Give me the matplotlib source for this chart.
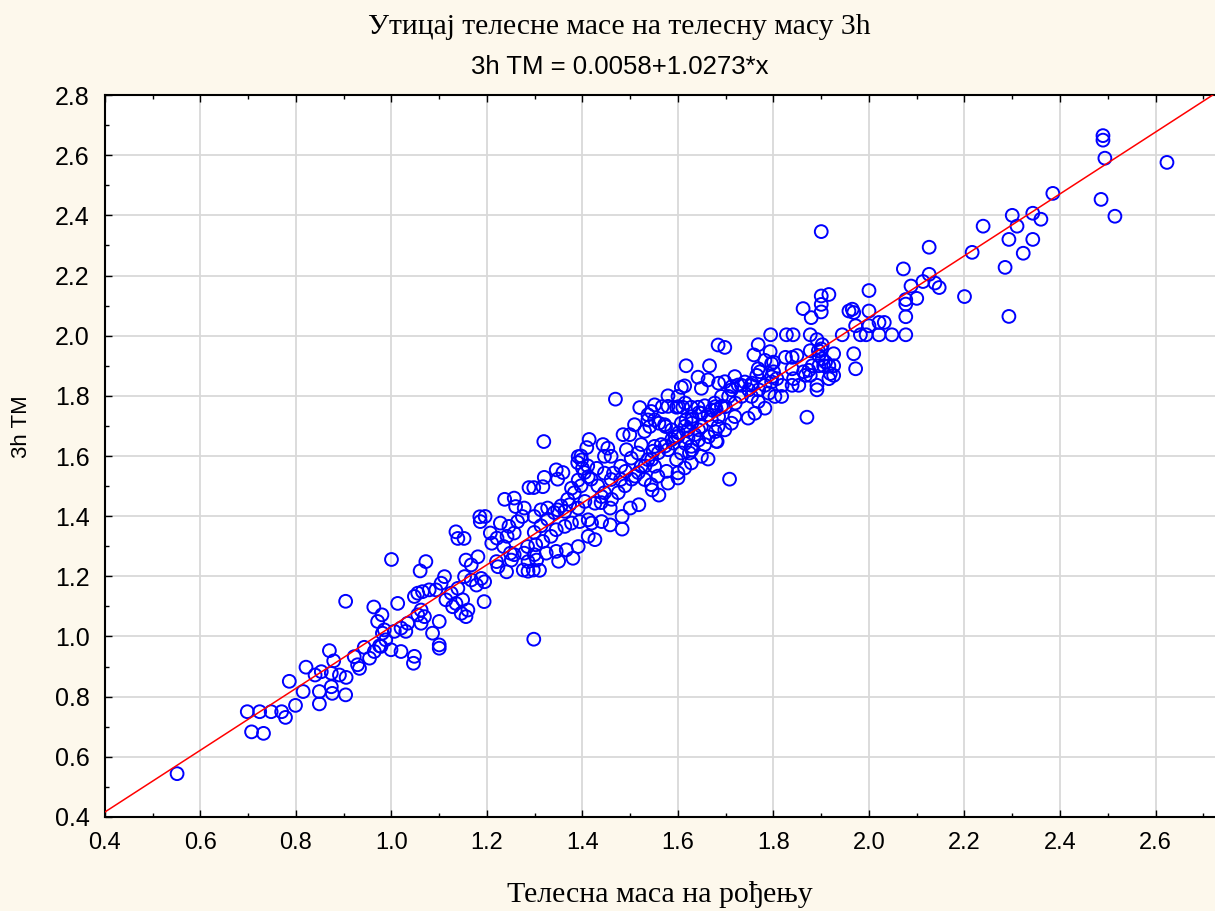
import numpy as np
import matplotlib
matplotlib.use("Agg")
import matplotlib.pyplot as plt
from matplotlib.ticker import MultipleLocator

# regression from the chart subtitle
b0 = 0.0058
b1 = 1.0273

# body mass at birth (x) and at 3h (y), grouped by area
x_low = [0.551, 0.698, 0.724, 0.748, 0.770, 0.707, 0.732, 0.778, 0.799, 0.786, 0.815, 0.821,
         0.849, 0.849, 0.840, 0.853, 0.870, 0.879, 0.874, 0.874, 0.876, 0.891, 0.905, 0.904,
         0.904, 0.922, 0.929, 0.933, 0.943, 0.954, 0.964, 0.975, 0.963, 0.971, 0.980, 0.985,
         1.046]
y_low = [0.544, 0.750, 0.750, 0.750, 0.750, 0.683, 0.678, 0.731, 0.771, 0.851, 0.817, 0.898,
         0.776, 0.817, 0.872, 0.883, 0.953, 0.919, 0.878, 0.833, 0.811, 0.872, 0.864, 0.806,
         1.117, 0.933, 0.906, 0.894, 0.964, 0.928, 0.950, 0.969, 1.098, 1.050, 1.072, 1.022,
         0.911]

x_mid1 = [1.000, 1.072, 1.060, 1.135, 1.139, 1.152, 1.185, 1.156, 1.167, 1.181, 1.220, 1.241,
          1.223, 1.251, 1.276, 1.297, 1.286, 1.304, 1.153, 1.167, 1.188, 1.178, 1.195, 1.111,
          1.104, 1.093, 1.079, 1.065, 1.055, 1.048, 1.013, 1.139, 1.125, 1.114, 1.135, 1.149,
          1.160, 1.146, 1.128, 1.194, 1.156, 1.062, 1.055, 1.069, 1.062, 1.100, 1.086, 1.034,
          1.020, 1.006, 1.030, 0.981, 0.988, 1.100, 1.100, 1.020, 0.999, 0.978, 1.048, 1.298,
          1.286, 1.310, 1.350, 1.380]
y_mid1 = [1.256, 1.249, 1.218, 1.348, 1.326, 1.326, 1.398, 1.254, 1.238, 1.265, 1.249, 1.215,
          1.232, 1.254, 1.221, 1.221, 1.249, 1.254, 1.199, 1.188, 1.193, 1.171, 1.182, 1.199,
          1.177, 1.155, 1.155, 1.149, 1.144, 1.133, 1.110, 1.160, 1.144, 1.122, 1.110, 1.122,
          1.088, 1.077, 1.099, 1.116, 1.066, 1.088, 1.072, 1.066, 1.044, 1.050, 1.011, 1.044,
          1.028, 1.017, 1.017, 1.011, 0.989, 0.972, 0.961, 0.950, 0.956, 0.967, 0.934, 0.991,
          1.217, 1.220, 1.250, 1.260]

x_mid2 = [1.319, 1.414, 1.409, 1.391, 1.398, 1.400, 1.345, 1.359, 1.348, 1.320, 1.317, 1.288,
          1.298, 1.377, 1.391, 1.412, 1.430, 1.440, 1.426, 1.518, 1.500, 1.483, 1.483, 1.458,
          1.458, 1.440, 1.419, 1.405, 1.391, 1.373, 1.363, 1.348, 1.327, 1.313, 1.299, 1.237,
          1.257, 1.260, 1.278, 1.274, 1.264, 1.228, 1.246, 1.196, 1.186, 1.207, 1.221, 1.242,
          1.257, 1.210, 1.235, 1.249, 1.285, 1.302, 1.317, 1.334, 1.345, 1.363, 1.377, 1.394,
          1.412, 1.324, 1.345, 1.366, 1.391, 1.412, 1.426, 1.257, 1.278, 1.299, 1.546, 1.560]
y_mid2 = [1.648, 1.655, 1.628, 1.598, 1.587, 1.559, 1.554, 1.545, 1.523, 1.529, 1.498, 1.495,
          1.495, 1.493, 1.520, 1.531, 1.559, 1.465, 1.443, 1.438, 1.427, 1.399, 1.357, 1.427,
          1.371, 1.382, 1.377, 1.449, 1.427, 1.438, 1.416, 1.421, 1.427, 1.421, 1.399, 1.456,
          1.460, 1.432, 1.427, 1.399, 1.382, 1.377, 1.366, 1.399, 1.382, 1.344, 1.327, 1.333,
          1.344, 1.310, 1.299, 1.277, 1.299, 1.305, 1.316, 1.333, 1.355, 1.366, 1.377, 1.382,
          1.388, 1.277, 1.283, 1.288, 1.299, 1.333, 1.322, 1.272, 1.277, 1.272, 1.487, 1.470]

# densest part of the band, 1.3 < x < 1.65
x_band = [1.397, 1.390, 1.411, 1.404, 1.418, 1.397, 1.383, 1.369, 1.355, 1.341, 1.327, 1.313,
          1.299, 1.432, 1.446, 1.439, 1.461, 1.475, 1.489, 1.503, 1.517, 1.531, 1.545, 1.559,
          1.573, 1.587, 1.601, 1.615, 1.630, 1.644]
y_band = [1.600, 1.578, 1.567, 1.545, 1.523, 1.501, 1.478, 1.456, 1.434, 1.412, 1.390, 1.368,
          1.346, 1.501, 1.478, 1.445, 1.456, 1.478, 1.501, 1.523, 1.545, 1.567, 1.589, 1.611,
          1.633, 1.655, 1.677, 1.699, 1.722, 1.744]

x_mid3 = [1.684, 1.698, 1.617, 1.666, 1.642, 1.663, 1.649, 1.607, 1.614, 1.579, 1.600, 1.469,
          1.520, 1.551, 1.544, 1.537, 1.579, 1.597, 1.610, 1.628, 1.642, 1.656, 1.677, 1.537,
          1.551, 1.572, 1.509, 1.499, 1.485, 1.530, 1.541, 1.607, 1.617, 1.621, 1.649, 1.663,
          1.680, 1.691, 1.691, 1.698, 1.719, 1.712, 1.726, 1.719, 1.712, 1.698, 1.684, 1.670,
          1.649, 1.635, 1.621, 1.680, 1.656, 1.747, 1.761, 1.782, 1.768, 1.754, 1.733, 1.600,
          1.590, 1.579, 1.565, 1.551, 1.548, 1.523, 1.516, 1.628, 1.624, 1.607, 1.597, 1.649,
          1.663, 1.628, 1.614, 1.600, 1.600, 1.576, 1.708, 1.537, 1.551, 1.523, 1.502, 1.492,
          1.453, 1.443, 1.446, 1.460, 1.480, 1.490, 1.465, 1.446, 1.460, 1.480, 1.510, 1.530,
          1.558, 1.579, 1.544, 1.870, 1.891, 1.817, 1.803, 1.790]
y_mid3 = [1.969, 1.961, 1.900, 1.900, 1.862, 1.853, 1.825, 1.828, 1.833, 1.800, 1.798, 1.789,
          1.761, 1.770, 1.748, 1.737, 1.765, 1.762, 1.762, 1.762, 1.762, 1.767, 1.776, 1.720,
          1.720, 1.704, 1.704, 1.671, 1.671, 1.682, 1.698, 1.709, 1.720, 1.687, 1.742, 1.737,
          1.754, 1.765, 1.798, 1.847, 1.864, 1.820, 1.836, 1.731, 1.709, 1.687, 1.698, 1.720,
          1.698, 1.671, 1.660, 1.649, 1.638, 1.726, 1.742, 1.759, 1.781, 1.798, 1.798, 1.665,
          1.643, 1.621, 1.638, 1.632, 1.616, 1.638, 1.610, 1.632, 1.610, 1.610, 1.588, 1.599,
          1.590, 1.577, 1.560, 1.544, 1.527, 1.549, 1.523, 1.588, 1.566, 1.566, 1.593, 1.621,
          1.626, 1.638, 1.599, 1.599, 1.566, 1.549, 1.543, 1.543, 1.522, 1.522, 1.533, 1.522,
          1.533, 1.510, 1.505, 1.729, 1.820, 1.798, 1.798, 1.809]

# extra points of the 1.55 < x < 1.8 part of the band
x_mid4 = [1.682, 1.685, 1.671, 1.629, 1.615, 1.601, 1.567, 1.560, 1.574, 1.587, 1.594, 1.615,
          1.629, 1.643, 1.664, 1.678, 1.629, 1.643, 1.748, 1.769, 1.755, 1.685, 1.713, 1.706,
          1.678, 1.699, 1.720]
y_mid4 = [1.648, 1.731, 1.753, 1.731, 1.776, 1.764, 1.764, 1.709, 1.698, 1.687, 1.664, 1.642,
          1.620, 1.653, 1.664, 1.681, 1.709, 1.687, 1.820, 1.820, 1.842, 1.842, 1.831, 1.798,
          1.764, 1.764, 1.776]

x_high = [1.900, 2.072, 2.088, 2.077, 2.077, 2.077, 2.077, 2.000, 2.000, 2.000, 2.021, 2.032,
          2.048, 2.021, 1.994, 1.982, 1.972, 1.958, 1.965, 1.968, 1.944, 1.916, 1.900, 1.900,
          1.900, 1.862, 1.879, 1.794, 1.827, 1.841, 1.877, 1.891, 1.902, 1.900, 1.894, 1.877,
          1.926, 1.768, 1.759, 1.793, 1.782, 1.796, 1.800, 1.825, 1.839, 1.849, 1.895, 1.902,
          1.909, 1.881, 1.895, 1.905, 1.916, 1.926, 1.874, 1.863, 1.867, 1.877, 1.919, 1.926,
          1.916, 1.968, 1.972, 1.768, 1.772, 1.765, 1.800, 1.796, 1.807, 1.839, 1.842, 1.740,
          1.754, 1.733, 1.818, 1.839, 1.853, 1.891, 1.782, 1.796]
y_high = [2.346, 2.222, 2.165, 2.120, 2.105, 2.063, 2.003, 2.150, 2.082, 2.033, 2.044, 2.044,
          2.003, 2.003, 2.003, 2.003, 2.033, 2.082, 2.088, 2.077, 2.003, 2.137, 2.132, 2.104,
          2.079, 2.090, 2.060, 2.003, 2.003, 2.003, 2.003, 1.987, 1.970, 1.956, 1.950, 1.950,
          1.940, 1.970, 1.936, 1.947, 1.918, 1.907, 1.912, 1.928, 1.928, 1.934, 1.934, 1.923,
          1.912, 1.900, 1.900, 1.900, 1.900, 1.900, 1.885, 1.880, 1.868, 1.868, 1.874, 1.868,
          1.857, 1.940, 1.890, 1.890, 1.880, 1.868, 1.880, 1.863, 1.857, 1.890, 1.857, 1.846,
          1.835, 1.835, 1.835, 1.835, 1.835, 1.835, 1.835, 1.846]

x_top = [2.490, 2.490, 2.494, 2.624, 2.486, 2.515, 2.385, 2.300, 2.343, 2.360, 2.310, 2.239,
         2.293, 2.343, 2.323, 2.216, 2.285, 2.126, 2.126, 2.113, 2.138, 2.147, 2.200, 2.100,
         2.293]
y_top = [2.665, 2.650, 2.590, 2.576, 2.453, 2.397, 2.473, 2.400, 2.407, 2.387, 2.364, 2.364,
         2.320, 2.320, 2.274, 2.277, 2.227, 2.294, 2.204, 2.180, 2.175, 2.160, 2.130, 2.124,
         2.064]

x = np.array(x_low + x_mid1 + x_mid2 + x_band + x_mid3 + x_mid4 + x_high + x_top)
y = np.array(y_low + y_mid1 + y_mid2 + y_band + y_mid3 + y_mid4 + y_high + y_top)

bg = '#fdf8ec'
fig = plt.figure(figsize=(12.15, 9.11), dpi=100, facecolor=bg)
ax = fig.add_axes([0.0864, 0.1032, 0.9136, 0.7925])
ax.set_facecolor('white')

ax.scatter(x, y, s=85, facecolors='none', edgecolors='#0000ff', linewidths=1.4, zorder=3)

xl = np.array([0.4, 2.7246])
ax.plot(xl, b0 + b1 * xl, color='#ff0000', lw=1.1, zorder=4)

ax.set_xlim(0.4, 2.7246)
ax.set_ylim(0.4, 2.8)
ax.xaxis.set_major_locator(MultipleLocator(0.2))
ax.xaxis.set_minor_locator(MultipleLocator(0.1))
ax.yaxis.set_major_locator(MultipleLocator(0.2))
ax.yaxis.set_minor_locator(MultipleLocator(0.1))
ax.tick_params(which='both', direction='in', top=True, right=False, color='black')
ax.tick_params(which='major', length=5, width=1)
ax.tick_params(which='minor', length=3, width=1)
ax.grid(True, which='major', color='#d9d9d9', lw=1.3, zorder=0)
ax.set_axisbelow(True)
for s in ['left', 'bottom', 'top']:
    ax.spines[s].set_linewidth(1.5)
ax.spines['right'].set_visible(False)

ax.set_xticklabels([f'{v:.1f}' for v in ax.get_xticks()],
                   family='Liberation Sans', fontsize=17)
ax.set_yticklabels([f'{v:.1f}' for v in ax.get_yticks()],
                   family='Liberation Sans', fontsize=18)
ax.tick_params(axis='x', pad=11)
ax.tick_params(axis='y', pad=11)

ax.set_xlabel('Телесна маса на рођењу', family='Liberation Serif', fontsize=21.5)
ax.xaxis.set_label_coords(0.5, -0.088)
ax.set_ylabel('3h TM', family='Liberation Sans', fontsize=16)
ax.yaxis.set_label_coords(-0.066, 0.54)

fig.text(0.51, 0.970, 'Утицај телесне масе на телесну масу 3h', ha='center', va='center',
         family='Liberation Serif', fontsize=21.3)
fig.text(0.51, 0.927, '3h TM = 0.0058+1.0273*x', ha='center', va='center',
         family='Liberation Sans', fontsize=18.5)

fig.savefig('out.png', dpi=100, facecolor=bg)
